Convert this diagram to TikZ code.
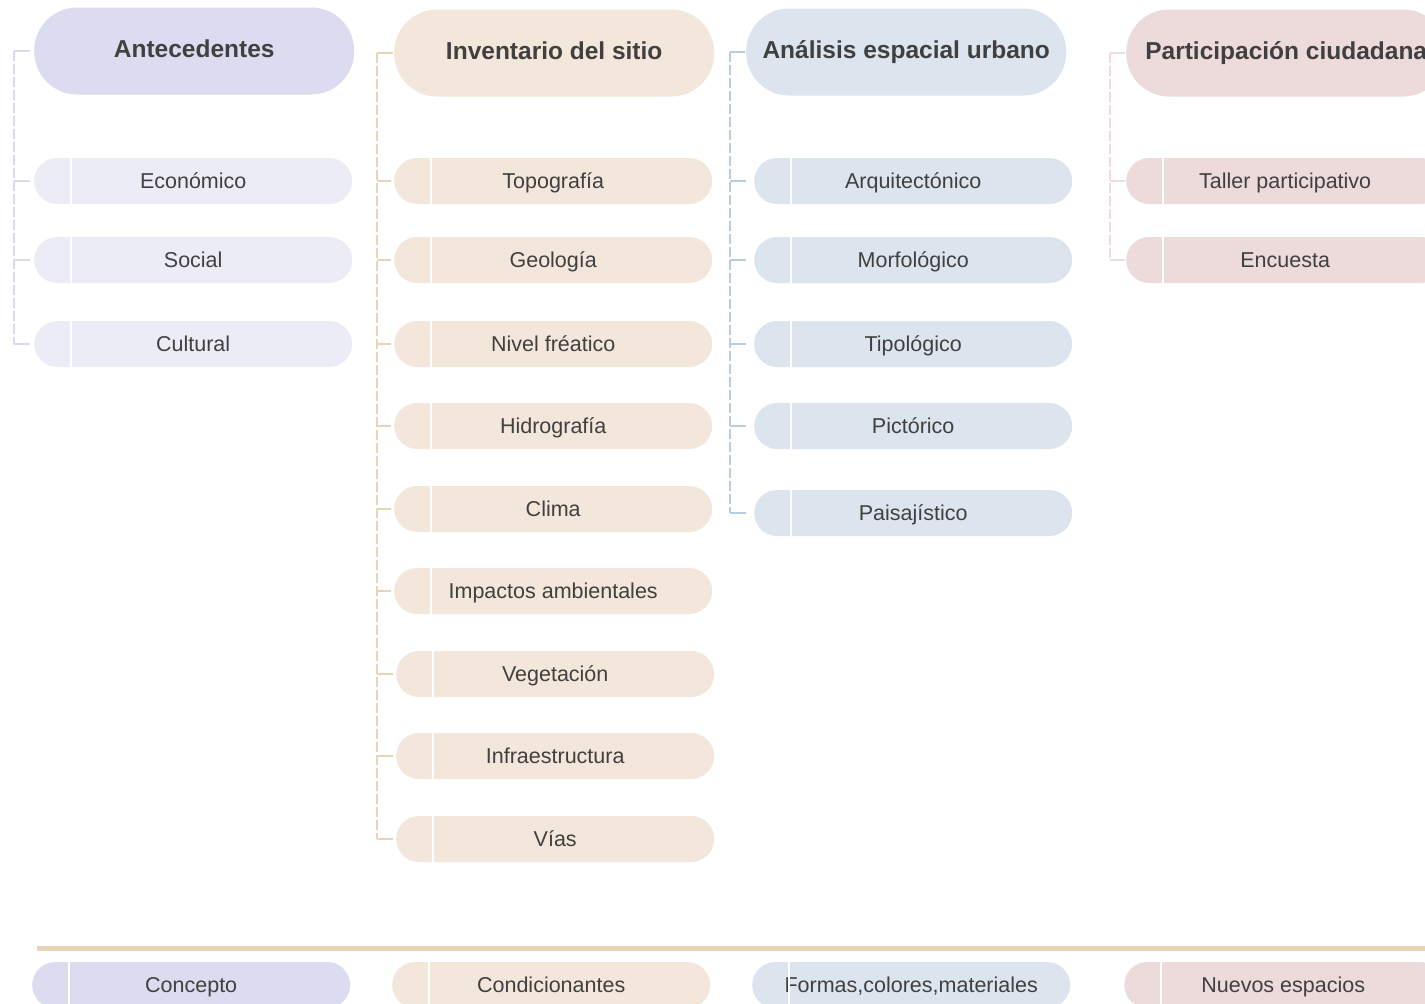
\documentclass[tikz,border=0pt]{standalone}
\usepackage{fontspec}
\setmainfont{Liberation Sans}
\usetikzlibrary{calc}
\definecolor{txt}{HTML}{404040}
\definecolor{hA}{HTML}{DCDCF0}
\definecolor{iA}{HTML}{ECECF7}
\definecolor{kA}{HTML}{DADAEF}
\definecolor{hB}{HTML}{F2E7DA}
\definecolor{kB}{HTML}{E8D5B8}
\definecolor{hC}{HTML}{DCE4EE}
\definecolor{kC}{HTML}{B9CDE1}
\definecolor{hD}{HTML}{EDDADB}
\definecolor{kD}{HTML}{F0DCDE}
\definecolor{baseline}{HTML}{E8D5B8}
\tikzset{
  hdrnode/.style={rectangle, rounded corners=43pt, minimum width=320pt, minimum height=87pt, inner sep=0pt, text=txt, text height=14pt, text depth=0.4pt, font=\fontsize{24.5}{28}\selectfont\bfseries},
  itemnode/.style={rectangle, rounded corners=23pt, minimum width=318pt, minimum height=46pt, inner sep=0pt, text=txt, text height=17.5pt, text depth=2pt, font=\fontsize{21.5}{25}\selectfont},
  divline/.style={draw=white, line width=2pt},
  brk/.style={line width=2pt, dash pattern=on 10pt off 3pt},
  stub/.style={line width=2pt},
}
\newcommand{\mkitem}[6]{% name, left x, center y, fill, text, divider offset
  \node[itemnode, fill=#4, anchor=west] (#1) at (#2,#3) {#5};
  \draw[divline] ([xshift=#6pt]#1.north west) -- ([xshift=#6pt]#1.south west);
}
\begin{document}
\begin{tikzpicture}[x=1pt,y=-1pt]
\useasboundingbox (0,0) rectangle (1425,1004);
\fill[white] (0,0) rectangle (1425,1004);
\clip (0,0) rectangle (1425,1004);

% ---------- Column A: Antecedentes
\node[hdrnode, fill=hA, anchor=west] (hA) at (34,51) {Antecedentes};
\mkitem{a1}{34}{181}{iA}{Económico}{37}
\mkitem{a2}{34}{260}{iA}{Social}{37}
\mkitem{a3}{34}{344}{iA}{Cultural}{37}
\coordinate (bA) at ([xshift=-20pt]hA.west);
\draw[stub, draw=kA] ([xshift=-4pt]hA.west) -- (bA);
\draw[brk, draw=kA] (bA) -- (bA |- a3.west);
\foreach \n in {a1,a2,a3} \draw[stub, draw=kA] (bA |- \n.west) -- ([xshift=-4pt]\n.west);

% ---------- Column B: Inventario del sitio
\node[hdrnode, fill=hB, anchor=west] (hB) at (394,53) {Inventario del sitio};
\mkitem{b1}{394}{181}{hB}{Topografía}{37}
\mkitem{b2}{394}{260}{hB}{Geología}{37}
\mkitem{b3}{394}{344}{hB}{Nivel fréatico}{37}
\mkitem{b4}{394}{426}{hB}{Hidrografía}{37}
\mkitem{b5}{394}{509}{hB}{Clima}{37}
\mkitem{b6}{394}{591}{hB}{Impactos ambientales}{37}
\mkitem{b7}{396}{674}{hB}{Vegetación}{37}
\mkitem{b8}{396}{756}{hB}{Infraestructura}{37}
\mkitem{b9}{396}{839}{hB}{Vías}{37}
\coordinate (bB) at ([xshift=-17pt]hB.west);
\draw[stub, draw=kB] ([xshift=-1pt]hB.west) -- (bB);
\draw[brk, draw=kB] (bB) -- (bB |- b9.west);
\foreach \n in {b1,b2,b3,b4,b5,b6,b7,b8,b9} \draw[stub, draw=kB] (bB |- \n.west) -- ([xshift=-3pt]\n.west);

% ---------- Column C: Análisis espacial urbano
\node[hdrnode, fill=hC, anchor=west] (hC) at (746,52) {Análisis espacial urbano};
\mkitem{c1}{754}{181}{hC}{Arquitectónico}{37}
\mkitem{c2}{754}{260}{hC}{Morfológico}{37}
\mkitem{c3}{754}{344}{hC}{Tipológico}{37}
\mkitem{c4}{754}{426}{hC}{Pictórico}{37}
\mkitem{c5}{754}{513}{hC}{Paisajístico}{37}
\coordinate (bC) at ([xshift=-16pt]hC.west);
\draw[stub, draw=kC] ([xshift=-1pt]hC.west) -- (bC);
\draw[brk, draw=kC] (bC) -- (bC |- c5.west);
\foreach \n in {c1,c2,c3,c4,c5} \draw[stub, draw=kC] (bC |- \n.west) -- ([xshift=-8pt]\n.west);

% ---------- Column D: Participación ciudadana
\node[hdrnode, fill=hD, anchor=west] (hD) at (1126,53) {Participación ciudadana};
\mkitem{d1}{1126}{181}{hD}{Taller participativo}{37}
\mkitem{d2}{1126}{260}{hD}{Encuesta}{37}
\coordinate (bD) at ([xshift=-16pt]hD.west);
\draw[stub, draw=kD] ([xshift=-1pt]hD.west) -- (bD);
\draw[brk, draw=kD] (bD) -- (bD |- d2.west);
\foreach \n in {d1,d2} \draw[stub, draw=kD] (bD |- \n.west) -- ([xshift=-1pt]\n.west);

% ---------- Bottom band
\coordinate (lineL) at (37,948);
\coordinate (lineR) at (1440,948);
\draw[draw=baseline, line width=5pt] (lineL) -- (lineR);
\mkitem{f1}{32}{985}{hA}{Concepto}{37}
\mkitem{f2}{392}{985}{hB}{Condicionantes}{37}
\mkitem{f3}{752}{985}{hC}{Formas,colores,materiales}{37}
\mkitem{f4}{1124}{985}{hD}{Nuevos espacios}{37}
\end{tikzpicture}
\end{document}
